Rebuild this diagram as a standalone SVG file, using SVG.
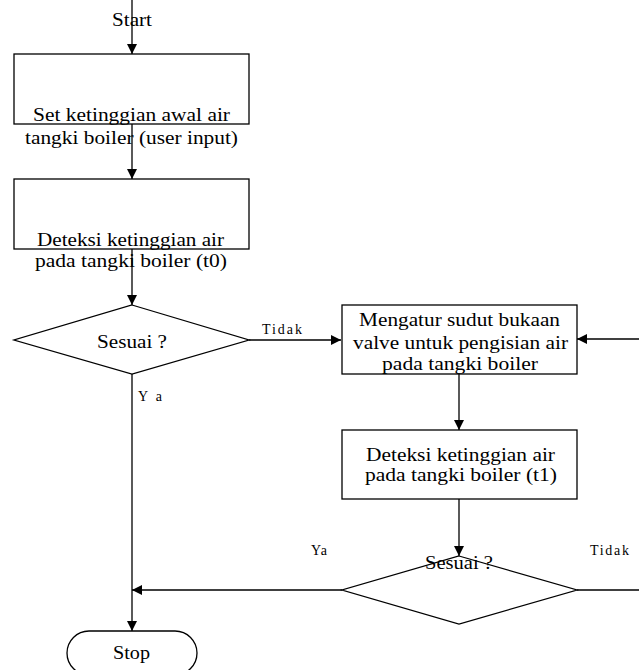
<svg xmlns="http://www.w3.org/2000/svg" width="639" height="670" viewBox="0 0 639 670">
<style>
.s{fill:#fff;stroke:#000;stroke-width:1.3}
.c{fill:none;stroke:#000;stroke-width:1.3}
text{font-family:"Liberation Serif","Times New Roman",serif;font-size:18.5px;fill:#000}
.sm{font-size:14px}
</style>
<defs>
<marker id="ah" viewBox="0 0 10 10" refX="10" refY="5" markerWidth="10" markerHeight="10" markerUnits="userSpaceOnUse" orient="auto">
<path d="M0,0 L10,5 L0,10 Z" fill="#000"/>
</marker>
</defs>
<rect width="639" height="670" fill="#fff"/>
<g id="box1">
<rect class="s" x="14" y="54" width="235" height="70"/>
</g>
<g id="box2">
<rect class="s" x="14" y="179" width="235" height="70"/>
</g>
<g id="dec1">
<polygon class="s" points="132,305 249,340 132,374 14,340"/>
</g>
<g id="box3">
<rect class="s" x="342" y="305" width="235" height="69"/>
</g>
<g id="box4">
<rect class="s" x="342" y="430" width="235" height="69"/>
</g>
<g id="dec2">
<polygon class="s" points="459,556 577,590 459,624 342,590"/>
</g>
<g id="stop">
<rect class="s" x="67" y="631" width="130" height="44" rx="22"/>
</g>
<g id="connectors">
<path class="c" d="M132,0 V54" marker-end="url(#ah)"/>
<path class="c" d="M132,124 V179" marker-end="url(#ah)"/>
<path class="c" d="M132,249 V305" marker-end="url(#ah)"/>
<path class="c" d="M249,340 H341" marker-end="url(#ah)"/>
<path class="c" d="M132,374 V631" marker-end="url(#ah)"/>
<path class="c" d="M639,339 H577" marker-end="url(#ah)"/>
<path class="c" d="M459,374 V430" marker-end="url(#ah)"/>
<path class="c" d="M459,499 V556" marker-end="url(#ah)"/>
<path class="c" d="M342,590 H132" marker-end="url(#ah)"/>
<path class="c" d="M577,590 H639"/>
</g>
<g id="labels">
<text x="112" y="26" textLength="40" lengthAdjust="spacingAndGlyphs">Start</text>
<text x="33" y="121" textLength="197" lengthAdjust="spacingAndGlyphs">Set ketinggian awal air</text>
<text x="25" y="144" textLength="213" lengthAdjust="spacingAndGlyphs">tangki boiler (user input)</text>
<text x="37" y="246" textLength="187" lengthAdjust="spacingAndGlyphs">Deteksi ketinggian air</text>
<text x="35" y="267" textLength="192" lengthAdjust="spacingAndGlyphs">pada tangki boiler (t0)</text>
<text x="97" y="348" textLength="70" lengthAdjust="spacingAndGlyphs">Sesuai ?</text>
<text class="sm" x="262" y="334" textLength="40" lengthAdjust="spacing">Tidak</text>
<text class="sm" x="138" y="401" textLength="24" lengthAdjust="spacing">Ya</text>
<text x="359" y="326" textLength="201" lengthAdjust="spacingAndGlyphs">Mengatur sudut bukaan</text>
<text x="353" y="349" textLength="215" lengthAdjust="spacingAndGlyphs">valve untuk pengisian air</text>
<text x="382" y="370" textLength="156" lengthAdjust="spacingAndGlyphs">pada tangki boiler</text>
<text x="366" y="461" textLength="189" lengthAdjust="spacingAndGlyphs">Deteksi ketinggian air</text>
<text x="365" y="481" textLength="192" lengthAdjust="spacingAndGlyphs">pada  tangki boiler (t1)</text>
<text x="425" y="569" textLength="68" lengthAdjust="spacingAndGlyphs">Sesuai ?</text>
<text class="sm" x="311" y="555" textLength="16" lengthAdjust="spacing">Ya</text>
<text class="sm" x="590" y="555" textLength="39" lengthAdjust="spacing">Tidak</text>
<text x="113" y="659" textLength="37" lengthAdjust="spacingAndGlyphs">Stop</text>
</g>
</svg>
